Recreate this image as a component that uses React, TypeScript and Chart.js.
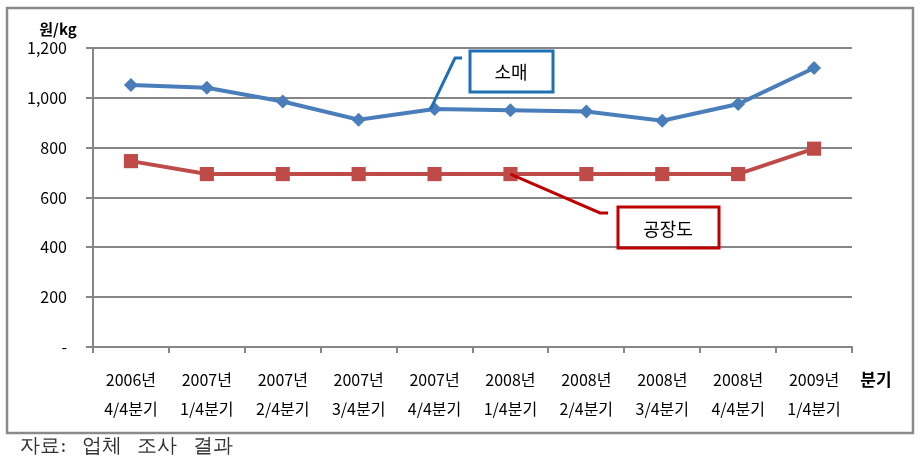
import { useEffect, useRef } from "react";
import { Chart, registerables } from "chart.js";

Chart.register(...registerables);

const years = ["2006년", "2007년", "2007년", "2007년", "2007년", "2008년", "2008년", "2008년", "2008년", "2009년"];
const quarters = ["4/4분기", "1/4분기", "2/4분기", "3/4분기", "4/4분기", "1/4분기", "2/4분기", "3/4분기", "4/4분기", "1/4분기"];
const retail = [1052, 1040, 985, 912, 955, 950, 945, 908, 975, 1120];
const factory = [746, 694, 694, 694, 694, 694, 694, 694, 694, 796];
const yMin = 0;
const yMax = 1200;
const yStep = 200;
const retailName = "소매";
const factoryName = "공장도";
const yUnit = "원/kg";
const xUnit = "분기";
const source = "자료: 업체 조사 결과";

const SANS = "'Noto Sans CJK KR', 'Noto Sans', sans-serif";
const GRID = "#868686";

const overlay = {
  id: "overlay",
  afterDraw(chart: any) {
    const { ctx, scales } = chart;
    const xs = scales.x;
    const ys = scales.y;
    ctx.save();
    // outer frame
    ctx.strokeStyle = "#8a8a8a";
    ctx.lineWidth = 2.5;
    ctx.strokeRect(7, 8, 906, 425);

    // axis units
    ctx.fillStyle = "#000";
    ctx.font = `bold 15px ${SANS}`;
    ctx.textAlign = "center";
    ctx.textBaseline = "middle";
    ctx.fillText(yUnit, 58, 29);
    ctx.font = `bold 17px ${SANS}`;
    ctx.fillText(xUnit, 876, 380);

    // retail callout
    const rx = xs.getPixelForValue(4);
    const ry = ys.getPixelForValue(retail[4]);
    ctx.strokeStyle = "#1f6fb4";
    ctx.lineWidth = 3;
    ctx.beginPath();
    ctx.moveTo(rx - 4, ry);
    ctx.lineTo(455, 58);
    ctx.lineTo(462, 58);
    ctx.stroke();
    ctx.strokeRect(470, 51, 83, 41);
    ctx.fillStyle = "#000";
    ctx.font = `18px ${SANS}`;
    ctx.fillText(retailName, 511, 72);

    // factory callout
    const fx = xs.getPixelForValue(5);
    const fy = ys.getPixelForValue(factory[5]);
    ctx.strokeStyle = "#c00000";
    ctx.lineWidth = 3;
    ctx.beginPath();
    ctx.moveTo(fx, fy);
    ctx.lineTo(600, 213);
    ctx.lineTo(608, 213);
    ctx.stroke();
    ctx.strokeRect(618, 207, 101, 41);
    ctx.fillText(factoryName, 668, 229);

    // source
    ctx.textAlign = "left";
    ctx.font = `20px 'DejaVu Serif', serif`;
    try {
      (ctx as any).wordSpacing = "9px";
    } catch (e) {}
    ctx.fillStyle = "#333";
    ctx.fillText(source, 20, 447);
    ctx.restore();
  },
};

export default function App() {
  const ref = useRef<HTMLCanvasElement | null>(null);
  useEffect(() => {
    if (!ref.current) return;
    const labels = years.map((y, i) => [y, quarters[i]]);
    const chart = new Chart(ref.current, {
      type: "line",
      data: {
        labels,
        datasets: [
          {
            label: retailName,
            data: retail,
            borderColor: "#4a7ebb",
            backgroundColor: "#4a7ebb",
            borderWidth: 4,
            pointStyle: "rectRot",
            pointRadius: 7,
            pointBorderWidth: 0,
            tension: 0,
          },
          {
            label: factoryName,
            data: factory,
            borderColor: "#be4b48",
            backgroundColor: "#be4b48",
            borderWidth: 4,
            pointStyle: "rect",
            pointRadius: 10,
            pointBorderWidth: 0,
            tension: 0,
          },
        ],
      },
      options: {
        responsive: false,
        animation: false,
        layout: { padding: { left: 0, top: 48, right: 69, bottom: 0 } },
        plugins: { legend: { display: false }, tooltip: { enabled: false } },
        scales: {
          x: {
            type: "category",
            offset: true,
            afterFit: (s: any) => {
              s.height = 121;
            },
            grid: { offset: true, drawOnChartArea: false, color: GRID, lineWidth: 2, tickLength: 6 },
            border: { color: GRID, width: 2 },
            ticks: {
              color: "#000",
              font: { family: SANS, size: 16, lineHeight: "29px" },
              padding: 12,
              maxRotation: 0,
              autoSkip: false,
            },
          },
          y: {
            min: yMin,
            max: yMax,
            afterFit: (s: any) => {
              s.width = 93;
            },
            grid: { color: GRID, lineWidth: 2, tickLength: 7 },
            border: { color: GRID, width: 2 },
            ticks: {
              stepSize: yStep,
              color: "#000",
              font: { family: SANS, size: 16 },
              padding: 19,
              callback: (v: any) => (Number(v) === 0 ? "-" : Number(v).toLocaleString("en-US")),
            },
          },
        },
      },
      plugins: [overlay],
    });
    return () => chart.destroy();
  }, []);
  return (
    <div style={{ position: "fixed", left: 0, top: 0, width: 921, height: 468, background: "#fff" }}>
      <canvas ref={ref} width={921} height={468} style={{ display: "block" }} />
    </div>
  );
}
